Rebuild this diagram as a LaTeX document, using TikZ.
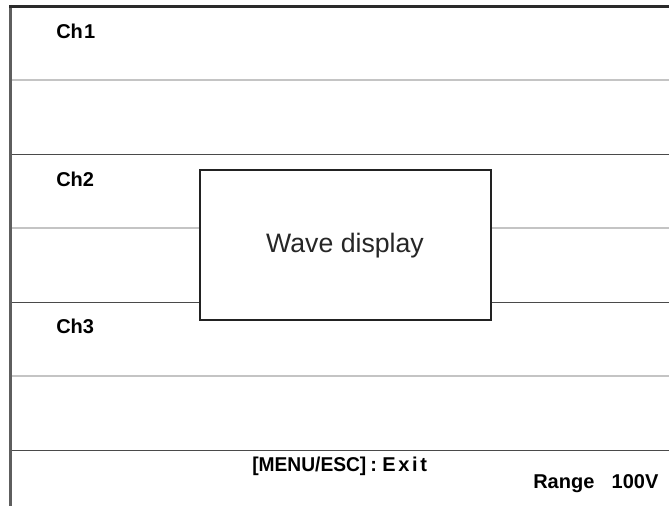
\documentclass[tikz,border=0pt]{standalone}
\usepackage{fontspec}
\setmainfont{Liberation Sans}
\usepackage{graphicx}
\definecolor{borderdark}{HTML}{2A2A2A}
\definecolor{borderleft}{HTML}{5E5E5E}
\definecolor{linedark}{HTML}{4A4A4A}
\definecolor{linelight}{HTML}{C4C4C4}
\definecolor{boxline}{HTML}{222222}
\begin{document}
\begin{tikzpicture}[x=0.75pt,y=-0.75pt,
  darkline/.style={draw=linedark,line width=1.2pt},
  lightline/.style={draw=linelight,line width=1.05pt},
  chlabel/.style={anchor=base west,inner sep=0pt,font=\fontsize{15pt}{17pt}\selectfont\bfseries},
  stattext/.style={anchor=base west,inner sep=0pt,font=\fontsize{15pt}{17pt}\selectfont\bfseries},
  wavebox/.style={draw=boxline,line width=1.5pt,fill=white,minimum width=218.25pt,minimum height=112.5pt,inner sep=0pt,font=\fontsize{20pt}{24pt}\selectfont,text=black!85}
]
\useasboundingbox (0,0) rectangle (669,506);
% frame
\draw[draw=borderleft,line width=2.25pt] (10.5,5) -- (10.5,506);
\draw[draw=borderdark,line width=2.25pt] (9,6.5) -- (669,6.5);
% channel separators
\draw[lightline] (12,80) -- (669,80);
\draw[darkline] (12,154.5) -- (669,154.5);
\draw[lightline] (12,228) -- (669,228);
\draw[darkline] (12,302.5) -- (669,302.5);
\draw[lightline] (12,376) -- (669,376);
\draw[darkline] (12,450.5) -- (669,450.5);
% labels
\node[chlabel] (ch1) at (56,39) {Ch\kern1pt1};
\node[chlabel] (ch2) at (56,187) {Ch2};
\node[chlabel] (ch3) at (56,334) {Ch3};
% wave display box
\node[wavebox] (wave) at (345,245.5) {\raisebox{4.5pt}{Wave display}\hspace{8pt}};
% status texts
\node[stattext] (menu) at (252,472) {\scalebox{0.96}[1]{[MENU/ESC]}\kern3pt:\kern4pt E\kern2pt x\kern2pt i\kern2pt t};
\node[stattext] (range) at (533,489) {Range\hspace{13pt}100V};
\end{tikzpicture}
\end{document}
